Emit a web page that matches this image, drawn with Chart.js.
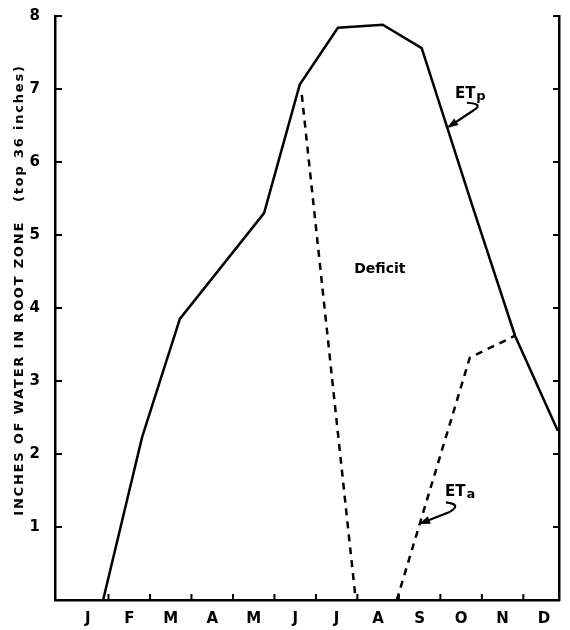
<!DOCTYPE html>
<html>
<head>
<meta charset="utf-8">
<script src="https://cdn.jsdelivr.net/npm/chart.js@4.4.1/dist/chart.umd.min.js"></script>
<style>
  html, body { margin: 0; padding: 0; background: #fff; }
  #wrap { width: 570px; height: 630px; }
</style>
</head>
<body>
<div id="wrap"><canvas id="chart" width="570" height="630"></canvas></div>
<script>
const months = ['J', 'F', 'M', 'A', 'M', 'J', 'J', 'A', 'S', 'O', 'N', 'D'];
const yTicks = [1, 2, 3, 4, 5, 6, 7, 8];

// potential ET (solid), x in months from start of January
const etpMonth = [0.87, 1.81, 2.72, 4.75, 5.61, 6.53, 7.61, 8.55, 9.76, 10.80, 11.83];
const etpInches = [0, 2.23, 3.85, 5.30, 7.06, 7.84, 7.88, 7.56, 5.42, 3.62, 2.32];

// actual ET (dashed), null breaks the line
const etaMonth = [5.66, 6.96, null, 7.95, 9.71, 10.80];
const etaInches = [6.92, 0, null, 0, 3.32, 3.62];

const font = 'DejaVu Sans, sans-serif';

function pts(xs, ys) {
    return xs.map((x, i) => ({ x: x, y: ys[i] }));
}

const notes = {
    id: 'notes',
    afterDraw(chart) {
        const ctx = chart.ctx;
        const x = chart.scales.x, y = chart.scales.y;
        const area = chart.chartArea;
        ctx.save();
        ctx.strokeStyle = '#000';
        ctx.fillStyle = '#000';
        ctx.lineWidth = 2;

        // inward tick marks
        for (let i = 1; i < months.length; i++) {
            const px = x.getPixelForValue(i);
            ctx.beginPath();
            ctx.moveTo(px, area.bottom);
            ctx.lineTo(px, area.bottom - 6);
            ctx.stroke();
        }
        yTicks.forEach(v => {
            const py = y.getPixelForValue(v);
            ctx.beginPath();
            ctx.moveTo(area.left, py);
            ctx.lineTo(area.left + 7, py);
            ctx.moveTo(area.right, py);
            ctx.lineTo(area.right - 6, py);
            ctx.stroke();
        });

        // y axis title with letter spacing
        ctx.save();
        ctx.translate(20, (area.top + area.bottom) / 2 - 18);
        ctx.rotate(-Math.PI / 2);
        ctx.font = 'bold 13px ' + font;
        ctx.letterSpacing = '1.8px';
        ctx.textAlign = 'center';
        ctx.textBaseline = 'middle';
        ctx.fillText('INCHES OF WATER IN ROOT ZONE   (top 36 inches)', 0, 0);
        ctx.restore();

        // Deficit
        ctx.font = 'bold 14px ' + font;
        ctx.textAlign = 'center';
        ctx.textBaseline = 'middle';
        ctx.fillText('Deficit', x.getPixelForValue(7.54), y.getPixelForValue(4.53));

        // ET labels with curled arrows
        function etLabel(sub, mx, my, curl, tip) {
            const a = x.getPixelForValue(mx), b = y.getPixelForValue(my);
            ctx.textAlign = 'left';
            ctx.textBaseline = 'alphabetic';
            ctx.font = 'bold 15px ' + font;
            ctx.fillText('ET', a, b);
            const w = ctx.measureText('ET').width;
            ctx.font = 'bold 13px ' + font;
            ctx.fillText(sub, a + w + 1, b + 2);

            ctx.lineWidth = 2.2;
            ctx.beginPath();
            ctx.moveTo(a + curl[0], b + curl[1]);
            ctx.quadraticCurveTo(a + curl[2], b + curl[3], a + curl[4], b + curl[5]);
            const tx = a + tip[0], ty = b + tip[1];
            ctx.lineTo(tx, ty);
            ctx.stroke();
            const ang = Math.atan2(ty - (b + curl[5]), tx - (a + curl[4]));
            ctx.beginPath();
            ctx.moveTo(tx + 2 * Math.cos(ang), ty + 2 * Math.sin(ang));
            ctx.lineTo(tx - 9 * Math.cos(ang) + 4 * Math.sin(ang), ty - 9 * Math.sin(ang) - 4 * Math.cos(ang));
            ctx.lineTo(tx - 9 * Math.cos(ang) - 4 * Math.sin(ang), ty - 9 * Math.sin(ang) + 4 * Math.cos(ang));
            ctx.closePath();
            ctx.fill();
        }
        etLabel('p', 9.35, 6.88, [12, 5, 30, 6, 18, 13], [-6, 29]);
        etLabel('a', 9.11, 1.42, [1, 6, 18, 8, 4, 16], [-24, 27]);

        ctx.restore();
    }
};

const config = {
    type: 'line',
    data: {
        datasets: [
            {
                label: 'ETp',
                data: pts(etpMonth, etpInches),
                borderColor: '#000',
                borderWidth: 2.5,
                pointRadius: 0,
                tension: 0
            },
            {
                label: 'ETa',
                data: pts(etaMonth, etaInches),
                borderColor: '#000',
                borderWidth: 2.5,
                borderDash: [7, 6],
                pointRadius: 0,
                spanGaps: false,
                tension: 0
            }
        ]
    },
    options: {
        responsive: false,
        animation: false,
        layout: { padding: { top: 10, left: 0, right: 0, bottom: 0 } },
        plugins: { legend: { display: false }, tooltip: { enabled: false } },
        scales: {
            x: {
                type: 'linear',
                min: -0.29,
                max: 11.86,
                grid: { display: false },
                border: { display: true, color: '#000', width: 2.5 },
                afterBuildTicks: (s) => { s.ticks = months.map((m, i) => ({ value: i + 0.5 })); },
                afterFit: (s) => { s.height = 30; },
                ticks: {
                    autoSkip: false,
                    maxRotation: 0,
                    padding: 2,
                    color: '#000',
                    font: { family: font, size: 15, weight: 'bold' },
                    callback: (v, i) => months[i]
                }
            },
            y: {
                min: 0,
                max: 8,
                grid: { display: false },
                border: { display: true, color: '#000', width: 2.5 },
                afterFit: (s) => { s.width = 55; },
                ticks: {
                    stepSize: 1,
                    padding: 7,
                    color: '#000',
                    font: { family: font, size: 15, weight: 'bold' },
                    callback: (v) => v === 0 ? '' : v
                }
            },
            y2: {
                position: 'right',
                min: 0,
                max: 8,
                grid: { display: false },
                border: { display: true, color: '#000', width: 2.5 },
                afterFit: (s) => { s.width = 11; },
                ticks: { display: false }
            }
        }
    },
    plugins: [notes]
};

new Chart(document.getElementById('chart').getContext('2d'), config);
</script>
</body>
</html>
